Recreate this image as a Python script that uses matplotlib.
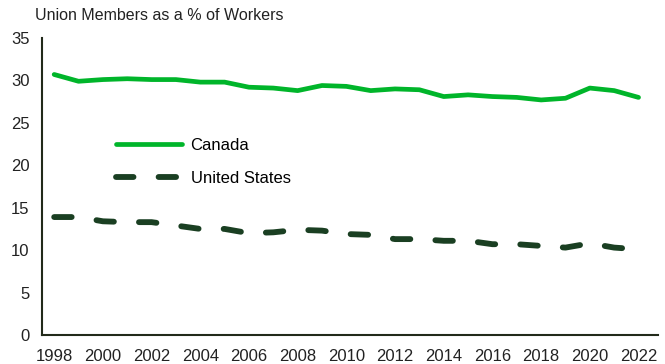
import matplotlib.pyplot as plt

plt.rcParams['font.family'] = ['Liberation Sans', 'DejaVu Sans']

years = list(range(1998, 2023))
canada = [30.7, 29.9, 30.1, 30.2, 30.1, 30.1, 29.8, 29.8, 29.2, 29.1, 28.8, 29.4,
          29.3, 28.8, 29.0, 28.9, 28.1, 28.3, 28.1, 28.0, 27.7, 27.9, 29.1, 28.8, 28.0]
usa = [13.9, 13.9, 13.4, 13.3, 13.3, 12.9, 12.5, 12.5, 12.0, 12.1, 12.4, 12.3,
       11.9, 11.8, 11.3, 11.3, 11.1, 11.1, 10.7, 10.7, 10.5, 10.3, 10.8, 10.3, 10.1]
xticks = list(range(1998, 2023, 2))

fig = plt.figure(figsize=(6.65, 3.64), dpi=100)
ax = fig.add_axes([42/665, 1 - 335/364, 616/665, 297/364])

ax.plot(years, canada, color='#00b52a', lw=3.4, solid_capstyle='round',
        solid_joinstyle='round', label='Canada')
ax.plot(years, usa, color='#1a3f22', lw=4.2, linestyle=(0, (3.0, 4.3)),
        dash_capstyle='round', label='United States')

ax.set_ylim(0, 35)
ax.set_xlim(1997.5, 2022.8)
ax.set_yticks(range(0, 36, 5))
ax.set_xticks(xticks)
ax.tick_params(length=0, labelsize=12, colors='#222222', pad=9)
ax.tick_params(axis='x', pad=10)
for s in ['top', 'right']:
    ax.spines[s].set_visible(False)
for s in ['left', 'bottom']:
    ax.spines[s].set_color('#222a1a')
    ax.spines[s].set_linewidth(1.5)

ax.legend(loc='upper left', bbox_to_anchor=(0.095, 0.715), frameon=False,
          fontsize=12, handlelength=4.0, labelspacing=1.1, handletextpad=0.5)

fig.text(35/665, 1 - 16/364, 'Union Members as a % of Workers', fontsize=11.5,
         color='#222222', va='center', ha='left')

fig.savefig('out.png', dpi=100)
